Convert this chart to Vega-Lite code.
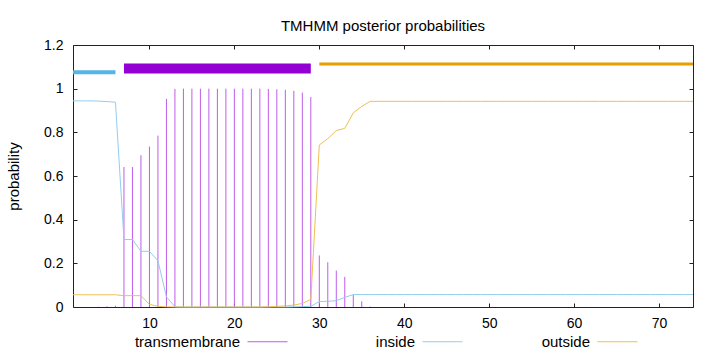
{
  "$schema": "https://vega.github.io/schema/vega-lite/v6.json",
  "width": 620,
  "height": 262,
  "autosize": "none",
  "padding": {"left": 73, "top": 45, "right": 27, "bottom": 45},
  "background": "white",
  "title": {"text": "TMHMM posterior probabilities", "font": "Liberation Sans", "fontSize": 15, "fontWeight": "normal", "color": "#000", "anchor": "middle", "baseline": "alphabetic", "offset": -8},
  "config": {
    "view": {"stroke": "#222", "strokeWidth": 1},
    "axis": {"grid": false, "domain": false, "ticks": true, "tickSize": -4, "tickColor": "#222", "labelFont": "Liberation Sans", "labelFontSize": 14, "labelColor": "#000", "titleFont": "Liberation Sans", "titleFontSize": 15, "titleFontWeight": "normal", "titleColor": "#000"},
    "legend": {"labelFont": "Liberation Sans", "labelFontSize": 15, "labelColor": "#000"}
  },
  "datasets": {
    "post": [
      {"pos": 1, "transmembrane": 0, "inside": 0.944, "outside": 0.056},
      {"pos": 2, "transmembrane": 0, "inside": 0.944, "outside": 0.056},
      {"pos": 3, "transmembrane": 0, "inside": 0.944, "outside": 0.056},
      {"pos": 4, "transmembrane": 0.001, "inside": 0.943, "outside": 0.056},
      {"pos": 5, "transmembrane": 0.003, "inside": 0.941, "outside": 0.056},
      {"pos": 6, "transmembrane": 0.006, "inside": 0.938, "outside": 0.056},
      {"pos": 7, "transmembrane": 0.641, "inside": 0.309, "outside": 0.052},
      {"pos": 8, "transmembrane": 0.641, "inside": 0.309, "outside": 0.052},
      {"pos": 9, "transmembrane": 0.695, "inside": 0.255, "outside": 0.052},
      {"pos": 10, "transmembrane": 0.735, "inside": 0.255, "outside": 0.012},
      {"pos": 11, "transmembrane": 0.785, "inside": 0.212, "outside": 0.003},
      {"pos": 12, "transmembrane": 0.953, "inside": 0.046, "outside": 0.001},
      {"pos": 13, "transmembrane": 0.999, "inside": 0.001, "outside": 0.0},
      {"pos": 14, "transmembrane": 1.0, "inside": 0.0, "outside": 0.0},
      {"pos": 15, "transmembrane": 1.0, "inside": 0.0, "outside": 0.0},
      {"pos": 16, "transmembrane": 1.0, "inside": 0.0, "outside": 0.0},
      {"pos": 17, "transmembrane": 1.0, "inside": 0.0, "outside": 0.0},
      {"pos": 18, "transmembrane": 1.0, "inside": 0.0, "outside": 0.0},
      {"pos": 19, "transmembrane": 1.0, "inside": 0.0, "outside": 0.0},
      {"pos": 20, "transmembrane": 1.0, "inside": 0.0, "outside": 0.0},
      {"pos": 21, "transmembrane": 1.0, "inside": 0.0, "outside": 0.0},
      {"pos": 22, "transmembrane": 1.0, "inside": 0.0, "outside": 0.0},
      {"pos": 23, "transmembrane": 1.0, "inside": 0.0, "outside": 0.0},
      {"pos": 24, "transmembrane": 0.999, "inside": 0.0, "outside": 0.001},
      {"pos": 25, "transmembrane": 0.997, "inside": 0.0, "outside": 0.003},
      {"pos": 26, "transmembrane": 0.995, "inside": 0.0, "outside": 0.005},
      {"pos": 27, "transmembrane": 0.99, "inside": 0.001, "outside": 0.009},
      {"pos": 28, "transmembrane": 0.982, "inside": 0.002, "outside": 0.016},
      {"pos": 29, "transmembrane": 0.962, "inside": 0.003, "outside": 0.035},
      {"pos": 30, "transmembrane": 0.236, "inside": 0.025, "outside": 0.742},
      {"pos": 31, "transmembrane": 0.205, "inside": 0.026, "outside": 0.771},
      {"pos": 32, "transmembrane": 0.167, "inside": 0.029, "outside": 0.808},
      {"pos": 33, "transmembrane": 0.138, "inside": 0.044, "outside": 0.818},
      {"pos": 34, "transmembrane": 0.056, "inside": 0.057, "outside": 0.889},
      {"pos": 35, "transmembrane": 0.026, "inside": 0.057, "outside": 0.919},
      {"pos": 36, "transmembrane": 0.002, "inside": 0.057, "outside": 0.942},
      {"pos": 37, "transmembrane": 0, "inside": 0.057, "outside": 0.942},
      {"pos": 38, "transmembrane": 0, "inside": 0.057, "outside": 0.942},
      {"pos": 39, "transmembrane": 0, "inside": 0.057, "outside": 0.942},
      {"pos": 40, "transmembrane": 0, "inside": 0.057, "outside": 0.942},
      {"pos": 41, "transmembrane": 0, "inside": 0.057, "outside": 0.942},
      {"pos": 42, "transmembrane": 0, "inside": 0.057, "outside": 0.942},
      {"pos": 43, "transmembrane": 0, "inside": 0.057, "outside": 0.942},
      {"pos": 44, "transmembrane": 0, "inside": 0.057, "outside": 0.942},
      {"pos": 45, "transmembrane": 0, "inside": 0.057, "outside": 0.942},
      {"pos": 46, "transmembrane": 0, "inside": 0.057, "outside": 0.942},
      {"pos": 47, "transmembrane": 0, "inside": 0.057, "outside": 0.942},
      {"pos": 48, "transmembrane": 0, "inside": 0.057, "outside": 0.942},
      {"pos": 49, "transmembrane": 0, "inside": 0.057, "outside": 0.942},
      {"pos": 50, "transmembrane": 0, "inside": 0.057, "outside": 0.942},
      {"pos": 51, "transmembrane": 0, "inside": 0.057, "outside": 0.942},
      {"pos": 52, "transmembrane": 0, "inside": 0.057, "outside": 0.942},
      {"pos": 53, "transmembrane": 0, "inside": 0.057, "outside": 0.942},
      {"pos": 54, "transmembrane": 0, "inside": 0.057, "outside": 0.942},
      {"pos": 55, "transmembrane": 0, "inside": 0.057, "outside": 0.942},
      {"pos": 56, "transmembrane": 0, "inside": 0.057, "outside": 0.942},
      {"pos": 57, "transmembrane": 0, "inside": 0.057, "outside": 0.942},
      {"pos": 58, "transmembrane": 0, "inside": 0.057, "outside": 0.942},
      {"pos": 59, "transmembrane": 0, "inside": 0.057, "outside": 0.942},
      {"pos": 60, "transmembrane": 0, "inside": 0.057, "outside": 0.942},
      {"pos": 61, "transmembrane": 0, "inside": 0.057, "outside": 0.942},
      {"pos": 62, "transmembrane": 0, "inside": 0.057, "outside": 0.942},
      {"pos": 63, "transmembrane": 0, "inside": 0.057, "outside": 0.942},
      {"pos": 64, "transmembrane": 0, "inside": 0.057, "outside": 0.942},
      {"pos": 65, "transmembrane": 0, "inside": 0.057, "outside": 0.942},
      {"pos": 66, "transmembrane": 0, "inside": 0.057, "outside": 0.942},
      {"pos": 67, "transmembrane": 0, "inside": 0.057, "outside": 0.942},
      {"pos": 68, "transmembrane": 0, "inside": 0.057, "outside": 0.942},
      {"pos": 69, "transmembrane": 0, "inside": 0.057, "outside": 0.942},
      {"pos": 70, "transmembrane": 0, "inside": 0.057, "outside": 0.942},
      {"pos": 71, "transmembrane": 0, "inside": 0.057, "outside": 0.942},
      {"pos": 72, "transmembrane": 0, "inside": 0.057, "outside": 0.942},
      {"pos": 73, "transmembrane": 0, "inside": 0.057, "outside": 0.942},
      {"pos": 74, "transmembrane": 0, "inside": 0.057, "outside": 0.942}
    ],
    "regions": [
      {"region": "inside", "start": 1, "end": 6, "level": 1.075},
      {"region": "transmembrane", "start": 7, "end": 29, "level": 1.092},
      {"region": "outside", "start": 30, "end": 74, "level": 1.113}
    ]
  },
  "layer": [
    {
      "data": {"name": "post"},
      "transform": [{"fold": ["transmembrane", "inside", "outside"], "as": ["series", "p"]}],
      "layer": [
        {
          "transform": [{"filter": "datum.series === 'transmembrane'"}],
          "mark": {"type": "rule", "strokeWidth": 1},
          "encoding": {
            "x": {"field": "pos", "type": "quantitative", "scale": {"domain": [1, 74], "nice": false, "zero": false}, "axis": {"orient": "bottom", "values": [10, 20, 30, 40, 50, 60, 70], "labelPadding": 13, "title": null}},
            "y": {"field": "p", "type": "quantitative", "scale": {"domain": [0, 1.2], "nice": false}, "axis": {"orient": "left", "values": [0, 0.2, 0.4, 0.6, 0.8, 1, 1.2], "format": "~g", "labelPadding": 14, "title": "probability", "titlePadding": 22}},
            "y2": {"datum": 0},
            "color": {"field": "series", "type": "nominal", "scale": {"domain": ["transmembrane", "inside", "outside"], "range": ["#c05ce9", "#93cdee", "#f0be55"]},
              "legend": {"orient": "none", "legendX": 174, "legendY": 276, "direction": "horizontal", "title": null, "symbolType": "stroke", "symbolSize": 1600, "symbolStrokeWidth": 1, "labelAlign": "right", "labelOffset": -48, "columnPadding": 76, "gridAlign": "all"}}
          }
        },
        {
          "transform": [{"filter": "datum.series !== 'transmembrane'"}],
          "mark": {"type": "line", "strokeWidth": 1},
          "encoding": {
            "x": {"field": "pos", "type": "quantitative"},
            "y": {"field": "p", "type": "quantitative"},
            "color": {"field": "series", "type": "nominal"}
          }
        }
      ]
    },
    {
      "data": {"name": "regions"},
      "transform": [{"filter": "datum.region === 'inside'"}],
      "mark": {"type": "rule", "strokeWidth": 4, "color": "#56b4e9", "strokeCap": "butt"},
      "encoding": {
        "x": {"field": "start", "type": "quantitative", "axis": {"orient": "top", "values": [10, 20, 30, 40, 50, 60, 70], "labels": false, "title": null}},
        "x2": {"field": "end"},
        "y": {"field": "level", "type": "quantitative", "axis": {"orient": "right", "values": [0, 0.2, 0.4, 0.6, 0.8, 1, 1.2], "labels": false, "title": null}}
      }
    },
    {
      "data": {"name": "regions"},
      "transform": [{"filter": "datum.region === 'transmembrane'"}],
      "mark": {"type": "rule", "strokeWidth": 10, "color": "#9400d3", "strokeCap": "butt"},
      "encoding": {
        "x": {"field": "start", "type": "quantitative", "axis": null},
        "x2": {"field": "end"},
        "y": {"field": "level", "type": "quantitative", "axis": null}
      }
    },
    {
      "data": {"name": "regions"},
      "transform": [{"filter": "datum.region === 'outside'"}],
      "mark": {"type": "rule", "strokeWidth": 3, "color": "#e69f00", "strokeCap": "butt"},
      "encoding": {
        "x": {"field": "start", "type": "quantitative", "axis": null},
        "x2": {"field": "end"},
        "y": {"field": "level", "type": "quantitative", "axis": null}
      }
    }
  ],
  "resolve": {"axis": {"x": "independent", "y": "independent"}}
}
